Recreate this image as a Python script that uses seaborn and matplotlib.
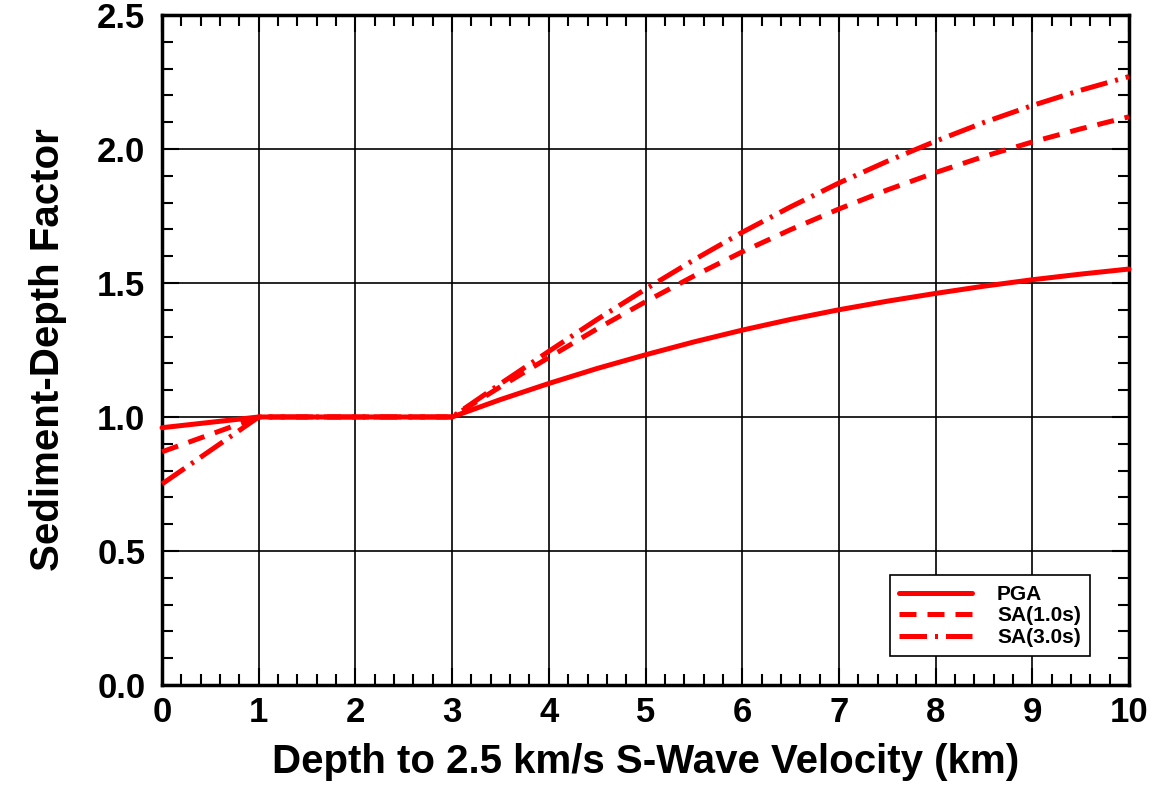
import seaborn as sns
from matplotlib import pyplot as plt
from matplotlib.ticker import MultipleLocator
import pandas as pd

# values
depth = [0, 1, 2, 3, 3.5, 4, 4.5, 5, 5.5, 6, 6.5, 7, 7.5, 8, 8.5, 9, 9.5, 10]
pga = [0.96, 1.0, 1.0, 1.0, 1.065, 1.125, 1.181, 1.232, 1.280, 1.324, 1.364, 1.40, 1.432, 1.461, 1.488, 1.512, 1.533, 1.552]
sa10 = [0.87, 1.0, 1.0, 1.0, 1.113, 1.222, 1.329, 1.43, 1.526, 1.616, 1.699, 1.776, 1.847, 1.912, 1.972, 2.026, 2.075, 2.12]
sa30 = [0.75, 1.0, 1.0, 1.0, 1.124, 1.245, 1.364, 1.477, 1.586, 1.689, 1.784, 1.873, 1.954, 2.029, 2.099, 2.162, 2.219, 2.27]
names = ['PGA', 'SA(1.0s)', 'SA(3.0s)']

rows = []
for name, vals in zip(names, [pga, sa10, sa30]):
    for d, v in zip(depth, vals):
        rows.append({'depth': d, 'factor': v, 'series': name})
df = pd.DataFrame(rows)

sns.set_style('ticks')
plt.rcParams['font.family'] = ['Liberation Sans', 'DejaVu Sans']
plt.rcParams['font.weight'] = 'bold'
for k in ['text.color', 'axes.labelcolor', 'xtick.color', 'ytick.color']:
    plt.rcParams[k] = 'black'

fig = plt.figure(figsize=(11.55, 7.86), dpi=100)
ax = fig.add_axes([0.1403, 0.1285, 0.8372, 0.8525])

sns.lineplot(data=df, x='depth', y='factor', style='series', color='red',
             dashes={'PGA': '', 'SA(1.0s)': (3.4, 2.2), 'SA(3.0s)': (5.5, 1.6, 0.6, 1.6)},
             linewidth=3.6, ax=ax, legend=True)
for ln in ax.lines:
    ln.set_clip_on(False)
    ln.set_zorder(3)

ax.set_xlim(0, 10)
ax.set_ylim(0, 2.5)
ax.xaxis.set_major_locator(MultipleLocator(1))
ax.xaxis.set_minor_locator(MultipleLocator(0.2))
ax.yaxis.set_major_locator(MultipleLocator(0.5))
ax.yaxis.set_minor_locator(MultipleLocator(0.1))
ax.yaxis.set_major_formatter(plt.FormatStrFormatter('%.1f'))
ax.grid(True, which='major', color='black', linewidth=1.2)
ax.set_axisbelow(True)
ax.tick_params(which='both', direction='in', top=True, right=True, width=1.5)
ax.tick_params(which='major', length=12, labelsize=25)
ax.tick_params(axis='y', which='major', pad=12)
ax.tick_params(axis='x', which='major', pad=8)
ax.tick_params(which='minor', length=8)
for s in ax.spines.values():
    s.set_linewidth(2.5)
    s.set_color('black')

ax.set_xlabel('Depth to 2.5 km/s S-Wave Velocity (km)', fontsize=29, fontweight='bold', labelpad=10)
ax.set_ylabel('Sediment-Depth Factor', fontsize=29, fontweight='bold', labelpad=22)

handles, labels = ax.get_legend_handles_labels()
leg = ax.legend(handles, labels, loc='lower right', bbox_to_anchor=(0.96, 0.043),
                borderaxespad=0, fontsize=15, frameon=True, fancybox=False,
                edgecolor='black', framealpha=1, handlelength=3.5, handletextpad=1.2,
                borderpad=0.45, labelspacing=0.12)
leg.get_frame().set_linewidth(1.2)
for t in leg.get_texts():
    t.set_fontweight('bold')

fig.savefig('out.png', dpi=100)
